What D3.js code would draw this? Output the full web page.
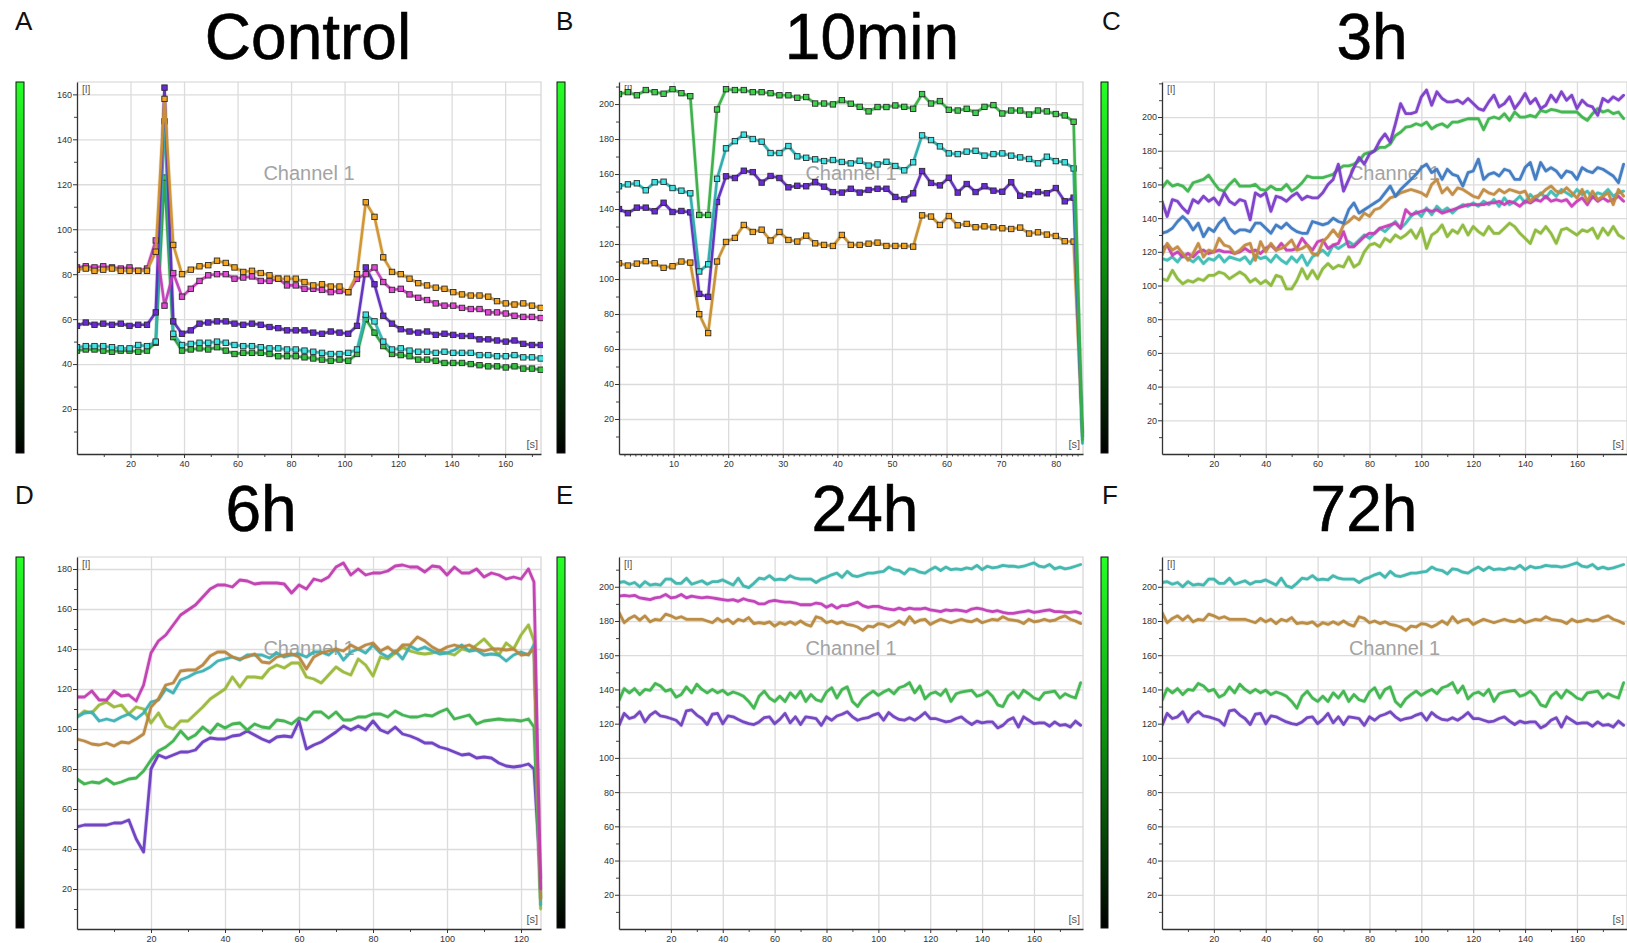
<!DOCTYPE html>
<html>
<head>
<meta charset="utf-8">
<script src="https://cdn.jsdelivr.net/npm/d3@7"></script>
<style>
  html, body { margin: 0; padding: 0; background: #fff; }
  svg { display: block; }
</style>
</head>
<body>
<svg id="chart" width="1627" height="943"></svg>
<script>
// ================= DATA =================
// Tick labels
const xTicks20 = [20, 40, 60, 80, 100, 120, 140, 160];
const xTicksB = [10, 20, 30, 40, 50, 60, 70, 80];
const xTicksD = [20, 40, 60, 80, 100, 120];
const yTicksA = [20, 40, 60, 80, 100, 120, 140, 160];
const yTicks200 = [20, 40, 60, 80, 100, 120, 140, 160, 180, 200];
const yTicksD = [20, 40, 60, 80, 100, 120, 140, 160, 180];

// Panel A: Control (sample times in s)
const ctrlTime = [0,3.27,6.54,9.81,13.08,16.35,19.62,22.89,26.16,29.43,32.7,35.97,39.24,42.51,45.78,49.05,52.32,55.59,58.86,62.13,65.4,68.67,71.94,75.21,78.48,81.75,85.02,88.29,91.56,94.83,98.1,101.37,104.64,107.91,111.18,114.45,117.72,120.99,124.26,127.53,130.8,134.07,137.34,140.61,143.88,147.15,150.42,153.69,156.96,160.23,163.5,166.77,170.04,173.31];
const ctrlOrange = [82,82.5,81.5,82,82.5,81.5,81.5,81.5,81.5,90,158,93,80,82,83.5,84,86,85,83,81,81.5,80.5,79.5,78,78,78,76.5,75,75.5,74.5,74.5,72,80,112,105.5,87.5,81,80,78,76,75,74,73.5,72,71,70.5,70.5,70,68,67,66.5,67,66,65];
const ctrlMagenta = [83,83.5,83,83.5,83,82.5,83,81.5,82.5,95,66,80.5,70,73.5,77,79.5,80,80,78,78.5,79,77,77,78,75,75,73.5,73.5,73,72,72.5,72,78,80,83,76.5,73,73.5,71,69.5,68.5,67,66,66,65,64.5,64.5,63,63,62.5,61.5,61,61,60.5];
const ctrlPurple = [57,58.5,57.5,58,57.5,58,57,57.5,57.5,63,163,59,53.5,55,58,58.5,59,59,58,57.5,58,57.5,56.5,56,55,55,55,54,53.5,54.5,54,53.5,57,83,75.5,61.5,58,55.5,54.5,54,54.5,53,53.5,53,52.5,52.5,51,51,50.5,50,50.5,49,48.5,48.5];
const ctrlCyan = [47.5,48,48,48,47.5,47,47,48.5,48,50,148,53.5,48.5,49,49.5,49.5,50,49.5,48.5,48,48,47.5,47,47,46.5,46.5,46,45.5,45,44.5,44.5,45,46.5,62,59,50,46.5,47,46,45.5,45.5,45,45.5,45,45,45,44,44,43.5,43.5,44,43,43,42.5];
const ctrlGreen = [46,46.5,46.5,46,45.5,46,46,45.5,46,49.5,123,52,46,46.5,47,46.5,47.5,46,44.5,45,45,45,44.5,43.5,43.5,43.5,43,42.5,42,41.5,42,41.5,44.5,60,54,48,44.5,44,43.5,42,42,41.5,40.5,40.5,40.5,40,39.5,39,39,38.5,39,38,38,37.5];

// Panel B: 10min (last point = end-of-recording drop)
const minTime = [0,1.63,3.27,4.9,6.53,8.17,9.8,11.43,13.06,14.7,16.33,17.96,19.6,21.23,22.86,24.5,26.13,27.76,29.39,31.03,32.66,34.29,35.93,37.56,39.19,40.83,42.46,44.09,45.72,47.36,48.99,50.62,52.26,53.89,55.52,57.16,58.79,60.42,62.05,63.69,65.32,66.95,68.59,70.22,71.85,73.49,75.12,76.75,78.38,80.02,81.65,83.28,84.9];
const minGreen = [205.7,206.8,205,208,206.8,205.9,208.5,206.2,204.5,136.6,136.6,196.9,208.5,208,208,206.8,206.8,206.2,205,205,203.6,204,200.3,200.3,199.8,202.2,200.2,198.4,195.8,198.3,198.3,199.2,198.4,197.3,205.7,200.3,201.7,196.7,196.3,197.3,195,198.4,199.4,194.6,196.3,196.3,194,196.3,195.8,194.3,193.5,189.9,8];
const minCyan = [153,154.1,154.7,150.7,155.3,155.6,152,150.5,149,104.3,108.4,157.3,174.7,178.8,182.5,180,178.5,172,172,176,170.1,169.3,168.4,167.4,168,166.9,166.1,167.6,164.8,165.5,167,164.6,162.1,166.7,182.1,179.4,175.8,171.8,171.4,172.8,173.3,170.5,171.4,171.8,170.5,169.5,168.6,166.1,169.9,167.4,166.7,163.2,6];
const minPurple = [140,137.6,140.8,140.8,138.7,143.6,138.3,138.9,138.1,91.5,89.8,144,158.7,157.7,161.9,161.1,155.1,158.9,157.7,152.4,153.3,153,155.3,152.8,149.7,149.4,151.6,149.4,150.9,151.6,151.6,146.9,145.5,149,161.7,154.9,153.5,157.9,149.4,154.3,149.7,153,150.5,149.9,155.3,147.6,148.4,149.7,149,152,144.4,146.5,10];
const minOrange = [109,107.7,108.8,110.2,109,106.4,107.3,110,109.4,79.9,69.1,110,121.2,123.5,130.9,126.9,128.2,122,126.9,122.3,121.4,124.8,120.4,119.5,118.9,125.2,119.5,119.5,120.2,120.8,118.9,118.9,118.9,118.5,136.4,135.7,130.9,136,130.7,131.5,129.6,130.1,129.6,129,128.6,129.4,126,126.7,125.4,124.6,121.6,121.4,12];

// Panel C: 3h (samples every 2 s)
const hTime = d3.range(0, 179, 2);
const hPurple = [150,141,151,150,146,143,151,149,153,150, 152,148,155,150,148,151,150,139,155,153, 155,144,153,152,150,153,155,151,153,152, 152,155,160,163,172,156,163,170,176,172, 178,180,186,190,185,196,208,202,202,203, 212,216,207,215,211,209,209,210,208,211, 208,205,204,209,213,206,208,212,205,209, 214,208,211,205,207,213,209,215,210,213, 205,210,207,206,201,211,209,212,210,213];
const hGreen = [158,162,159,160,159,156,161,162,163,165.5, 161,157,156,160,163,159,159,159,160,157, 156.5,159,157,157,160,156,158,161,165,164, 164,164,165,166,169,171,171,172,174,178, 179,180,182,182,184,189,191,194,194.5,196, 195,197,193,195,196,194,197,197,198,199, 199,199,192.5,199,200,199,202,198,203,200, 200,201,200,204,203,204.5,204,203,203,203, 203,200,198,202,205,203,204,202,203,199];
const hBlue = [131,132,134,138,141,138,133,137,129,134, 132,137,140,134,131,133,133,132,137,137, 134,131,136,134,137,134,132,131,131,138, 137,136,137,140,138,137,145,149,143,145, 147,149,151,155,159,153,157,160,163,166, 170,172,167,169,163,169,166,165,159,167, 168,175,163,166,167,165,169,168,163,163, 170,173,163,173,168,170,168,164,168,167, 163,170,168,167,170,169,167,165,161,172];
const hBrown = [118,125,121,123,119,115,119,125,117,121, 120,128,124,123,119,121,124,125,115,126, 120,125,121,122,124,127,121,122,124,119, 118,126,129,133,129,136,138,141,139,143, 141,145,146,149,152,153,155,156,157,156, 155,153,160,163,155,158,154,158,157,155, 153,152,157,155,154,157,155,157,156,155, 156,150,153,154,157,159,156,155,158,155, 152,157,150,156,151,153,155,148,157,153];
const hMagenta = [122,124,118,120,117,119,117,120,121,119, 120,121,120,120,119,120,122,120,121,119, 122,124,121,125,121,121,122,128,124,121, 126,127,122,124,125,132,123,123,126,129, 131,131,134,135,136,137,134,145,142,143, 144,145,144,145,143,144,145,146,147,148, 148,148,148,149,149,150,148,150,149,147, 150,149,151,150,153,150,151,150,151,147, 150,152,148,153,150,152,150,151,153,150];
const hTeal = [116,115,117,114,118,116,114,117,113,116, 115,118,114,117,116,115,117,113,118,116, 117,114,118,115,113,117,114,118,112,117, 119,121,118,124,122,124,126,124,127,130, 128,131,134,132,135,138,134,137,141,144, 141,146,142,147,144,146,143,146,148,147, 149,147,150,148,151,147,152,148,150,153, 149,154,151,155,152,156,153,157,155,153, 157,154,156,152,155,154,157,153,155,156];
const hYellowGreen = [104,103,109,104,101,103,102,104,103,106, 106,108,107,104,106,108,106,102,104,101, 103,100,106,105,98,98,103,110,104,109, 104,110,113,110,112,111,117,111,113,120, 124,125,123,128,126,130,128,130,133,128, 134,122,130,132,136,129,133,131,136,130, 135,132,130,135,131,131,134,137,135,131, 128,125,133,131,135,131,125,133,134,132, 130,133,132,134,128,134,130,135,130,128];

// Panel D: 6h (samples every 2 s, then end-of-recording drop)
const sixTime = d3.range(0, 123, 2).concat([123.5, 125.3]);
const sixMagenta = [116,116,119,114.5,114.5,119,116.5,117,114,122, 138,144,147,152,157,159.5,162,166,170,172, 172,171,174.5,174,172.5,173,173,173,172.5,168, 172,170,175,174,176,181,183,177,180,177, 178,178,179,181.5,182,181,181,178.5,181.5,181, 177,181,178,178,180,176,178,177,175,176, 175,180, 173.5,20];
const sixBrown = [95,94,92.5,92,93,91.5,93.5,93,95,97.5, 111,115,122,123,129,129.5,129.5,132,136.5,138.5, 138.5,136,135,136,137.5,133.5,133,136,137,137.5, 136,130,136,138,139,140,139,142,140,142, 143,139,141,138,142,142,146,144,141,139, 141,142,141,142,140,139,140,140,139.5,140, 137,137.5, 140,15];
const sixTeal = [106,108,108.5,104,105,104,106,107.5,105,108, 113.5,114.5,120,118,124.5,126,128,129,131,134, 135,136,134.5,137,137,137,135.5,138,136,137, 137.5,136,138.5,138.5,137,140,134.5,138.5,140,138, 142,138,136,139,135,141.5,139.5,141,139,137.5, 138,139.5,142,139,139.5,137,137.5,137,134,137, 138.5,137, 142,12];
const sixYellowGreen = [106,109,108,112,113.5,111,112,107.5,111,110, 103,108,101.5,100,104,104,107.5,111,115,117.5, 120,126,121,126,126,125.5,130,132,130.5,133, 133,126,125,123,127,131,128.5,127,135,132, 126.5,136,135,138,141,139,138,137.5,138,139, 138,137,140,139,142,145,141,137,143,140, 147,152, 144,10];
const sixGreen = [75,72.5,73.5,73,75,72.5,73.5,75,75.5,79, 84.5,89,91,94,99,95,97,101,98,102.5, 100.5,102.5,103,99.5,102.5,101,100.5,104.5,104,102.5, 105.5,104.5,108.5,108.5,105.5,108.5,104.5,104.5,106,106, 107.5,107.5,106,109,107,106,106,107,106.5,108.5, 110,105,106,107,102.5,104,104.5,105,104.5,104.5, 104,105, 101,15];
const sixPurple = [51,52,52,52,52,53,53,54.5,45,38.5, 80,87,85.5,87,88.5,88.5,89.5,93.5,95.5,95, 95,96.5,97,99,97,95,93.5,96,96.5,96, 104,90,92,93.5,96,98.5,101.5,99.5,101.5,99.5, 104,99.5,98,101,97.5,96.5,95,93,93,91, 90,88.5,87,87.5,85.5,86,85.5,83,81.5,81, 81.5,82.5, 80,25];

// Panel E: 24h and Panel F: 72h (samples every 2 s)
const dayTime = d3.range(0, 179, 2);
const dayTeal = [202.5,203,201.5,202.5,200,203,201,201.5,201,204.5, 204.5,202,202,205,201.5,202.5,203.5,201.5,203,203, 204,202.5,201,205,200.5,199.5,202,205,204.5,206.5, 204,204.5,204,206.5,205,204.5,204.5,204.5,202.5,204.5, 205.5,207,208,205.5,209,206.5,206,207,208,208, 208.5,209,211.5,210,209.5,207.5,210.5,210,208.5,208, 210,211.5,209.5,211.5,210,210.5,210,211,210.5,212.5, 210,212,211,211.5,212.5,212,212,211.5,212,213, 214,212,211.5,213,210.5,211.5,210.5,211,212,213];
const dayMagenta = [194.5,195,194.5,195,193.5,193,192.5,193.5,194,195.5, 193.5,194,195.5,193.5,194.5,194,193.5,194,193.5,193, 192.5,192,192.5,191.5,193,192,191.5,190,190,191.5, 192,191.5,191,191,190.5,189.5,189.5,189.5,190.5,190, 188,189.5,187.5,189,189,190,191,189,188,188.5, 188.5,187.5,187,186.5,187.5,186.5,187.5,187,187,187.5, 186.5,186,185.5,186.5,186,186.5,186,185.5,187,187.5, 187,186,185.5,186,185,184.5,184.5,185,185.5,186, 185,185.5,186,186.5,185.5,185.5,185,185,185.5,184.5];
const dayBrown = [185,179,181.5,183,180.5,183,179.5,181,180.5,184, 183,181.5,182.5,181,181,181,181,180,179,181.5, 179.5,181,178.5,181,180,182,178.5,179,178.5,179.5, 177,179,178,179.5,178,180,178,177,182.5,181.5, 179,180,178.5,179.5,178,177.5,176.5,174.5,177,176.5, 178.5,178,176.5,178,180,178,182.5,179,180.5,181, 178,179.5,181,180,179,180,181,180,179.5,181, 179,180,181,180.5,182.5,181,180.5,180,178.5,181, 179.5,180,181,180,180.5,182,183,181,180,178.5];
const dayGreen = [133.5,140.5,138,140.5,137,140,139.5,143.5,142,139, 140,135.5,137,141.5,138,143,140,138,140,138, 139.5,137,138.5,137.5,136,133,129,136,139,135, 133,136,133,138,135,139,133,137,134,133, 138.5,141,135,140,141.5,133,130,134.5,137,139, 136.5,138.5,140,137.5,141,142,144,138,142,134.5, 137.5,138.5,136.5,140,133,137.5,138.5,139,139.5,136, 137,139,136,131,130,136,138.5,135,139.5,137.5, 135,134,138,138.5,139,135,137.5,136,135,144];
const dayPurple = [119,126,123,124,127,121,125,127,124.5,124, 123,122,119,127.5,128,125,123,119.5,125.5,126, 120,124.5,124,122.5,121,120,119.5,121,123.5,124, 120,122.5,126,120.5,124,119.5,124,123.5,123,119, 124,122,124.5,125.5,127,124,122,123,123.5,125, 126,122,126.5,124,122.5,122,123.5,122,124,126.5, 123,123,122,121,121.5,123,124,121.5,119.5,121.5, 120.5,121,121,117.5,119,122,123.5,118,124,122, 120,120.5,120.5,118.5,121,119,119.5,118,121.5,119];

// ================= DRAWING =================
const FONT = '"Liberation Sans", Arial, Helvetica, sans-serif';
const svg = d3.select('#chart');
const defs = svg.append('defs');
const grad = defs.append('linearGradient').attr('id', 'cbar')
  .attr('x1', 0).attr('y1', 0).attr('x2', 0).attr('y2', 1);
grad.append('stop').attr('offset', '0%').attr('stop-color', '#27ff27');
grad.append('stop').attr('offset', '45%').attr('stop-color', '#0f9a12');
grad.append('stop').attr('offset', '100%').attr('stop-color', '#000');

const rows = [
  { top: 82, bottom: 454, titleY: 59, letterY: 30 },
  { top: 557, bottom: 929, titleY: 531, letterY: 504 }
];
const cols = [
  { left: 77, right: 541, cbX: 16, cbW: 8, letterX: 15 },
  { left: 619, right: 1083, cbX: 557, cbW: 8, letterX: 556 },
  { left: 1162, right: 1627, cbX: 1101, cbW: 7, letterX: 1102 }
];

const panels = [
  { letter: 'A', title: 'Control', titleX: 308, row: 0, col: 0, xMax: 173.4, yMax: 165.5,
    xTicks: xTicks20, xMinorStep: 10, yTicks: yTicksA, time: ctrlTime, markers: 54, lw: 2.6,
    series: [
      { v: ctrlGreen, c: '#2f9e3c', f: '#33c23f' },
      { v: ctrlCyan, c: '#2fb3b3', f: '#3fe3e3' },
      { v: ctrlPurple, c: '#5e2dbd', f: '#6a2ad8' },
      { v: ctrlMagenta, c: '#bf3cb6', f: '#e24ad6' },
      { v: ctrlOrange, c: '#cf922c', f: '#f2a41e' }
    ] },
  { letter: 'B', title: '10min', titleX: 872, row: 0, col: 1, xMax: 85.0, yMax: 212.6,
    xTicks: xTicksB, xMinorStep: 1, yTicks: yTicks200, time: minTime, markers: 52, lw: 2.6,
    series: [
      { v: minOrange, c: '#c68e2e', f: '#f2a41e' },
      { v: minPurple, c: '#5e2dbd', f: '#6a2ad8' },
      { v: minCyan, c: '#2aaaaa', f: '#3fe3e3' },
      { v: minGreen, c: '#37ae45', f: '#3fd04e' }
    ] },
  { letter: 'C', title: '3h', titleX: 1372, row: 0, col: 2, xMax: 179.3, yMax: 220.8,
    xTicks: xTicks20, xMinorStep: 10, yTicks: yTicks200, time: hTime, markers: 0, lw: 2.8,
    series: [
      { v: hYellowGreen, c: '#8cb83a' },
      { v: hTeal, c: '#3cbcb4' },
      { v: hMagenta, c: '#c83cb8' },
      { v: hBrown, c: '#c08a40' },
      { v: hBlue, c: '#3c78c0' },
      { v: hGreen, c: '#3cb44b' },
      { v: hPurple, c: '#7a3cc8' }
    ] },
  { letter: 'D', title: '6h', titleX: 261, row: 1, col: 0, xMax: 125.4, yMax: 186,
    xTicks: xTicksD, xMinorStep: 10, yTicks: yTicksD, time: sixTime, markers: 0, lw: 2.8,
    series: [
      { v: sixPurple, c: '#6a3cc0' },
      { v: sixGreen, c: '#3cb04b' },
      { v: sixYellowGreen, c: '#9ab83a' },
      { v: sixTeal, c: '#3cb0b4' },
      { v: sixBrown, c: '#b8863e' },
      { v: sixMagenta, c: '#c03cb0' }
    ] },
  { letter: 'E', title: '24h', titleX: 865, row: 1, col: 1, xMax: 178.9, yMax: 217.4,
    xTicks: xTicks20, xMinorStep: 10, yTicks: yTicks200, time: dayTime, markers: 0, lw: 2.8,
    series: [
      { v: dayPurple, c: '#7040c0' },
      { v: dayGreen, c: '#3cb44b' },
      { v: dayBrown, c: '#b8883c' },
      { v: dayMagenta, c: '#c03cb8' },
      { v: dayTeal, c: '#3cb4ac' }
    ] },
  { letter: 'F', title: '72h', titleX: 1364, row: 1, col: 2, xMax: 179.3, yMax: 217.4,
    xTicks: xTicks20, xMinorStep: 10, yTicks: yTicks200, time: dayTime, markers: 0, lw: 2.8,
    series: [
      { v: dayPurple, c: '#7040c0' },
      { v: dayGreen, c: '#3cb44b' },
      { v: dayBrown, c: '#b8883c' },
      { v: dayTeal, c: '#3cb4ac' }
    ] }
];

function drawPanel(p) {
  const r = rows[p.row], c = cols[p.col];
  const left = c.left, right = c.right, top = r.top, bottom = r.bottom;
  const x = d3.scaleLinear().domain([0, p.xMax]).range([left, right]);
  const y = d3.scaleLinear().domain([0, p.yMax]).range([bottom, top]);
  const g = svg.append('g');

  // letter & title
  g.append('text').attr('x', c.letterX).attr('y', r.letterY)
    .attr('font-family', FONT).attr('font-size', 26).attr('fill', '#111').text(p.letter);
  g.append('text').attr('x', p.titleX).attr('y', r.titleY).attr('text-anchor', 'middle')
    .attr('font-family', FONT).attr('font-size', 64).attr('fill', '#000')
    .attr('stroke', '#000').attr('stroke-width', 0.6).text(p.title);

  // colour bar
  g.append('rect').attr('x', c.cbX).attr('y', top).attr('width', c.cbW).attr('height', bottom - top - 1)
    .attr('fill', 'url(#cbar)').attr('stroke', '#111').attr('stroke-width', 1);

  // clip
  const cid = 'clip' + p.letter;
  defs.append('clipPath').attr('id', cid).append('rect')
    .attr('x', left).attr('y', top - 4).attr('width', right - left + 2).attr('height', bottom - top + 4);

  // grid
  g.append('g').attr('transform', `translate(0,${bottom})`)
    .call(d3.axisBottom(x).tickValues(p.xTicks).tickSize(-(bottom - top)).tickFormat(''))
    .call(s => { s.select('.domain').remove(); s.selectAll('line').attr('stroke', '#dcdcdc').attr('stroke-width', 1.3); });
  g.append('g').attr('transform', `translate(${left},0)`)
    .call(d3.axisLeft(y).tickValues(p.yTicks).tickSize(-(right - left)).tickFormat(''))
    .call(s => { s.select('.domain').remove(); s.selectAll('line').attr('stroke', '#dcdcdc').attr('stroke-width', 1.3); });
  g.append('path').attr('d', `M${left},${top}H${right}V${bottom}`)
    .attr('fill', 'none').attr('stroke', '#d4d4d4').attr('stroke-width', 1.2);

  // watermark text
  g.append('text').attr('x', (left + right) / 2).attr('y', top + 98).attr('text-anchor', 'middle')
    .attr('font-family', FONT).attr('font-size', 20).attr('fill', '#a3a3a3').text('Channel 1');
  g.append('text').attr('x', left + 5).attr('y', top + 11)
    .attr('font-family', FONT).attr('font-size', 10).attr('fill', '#555').text('[I]');
  g.append('text').attr('x', right - 3).attr('y', bottom - 6).attr('text-anchor', 'end')
    .attr('font-family', FONT).attr('font-size', 11).attr('fill', '#555').text('[s]');

  // lines
  const lg = g.append('g').attr('clip-path', `url(#${cid})`);
  const line = d3.line().x((d, i) => x(p.time[i])).y(d => y(d));
  p.series.forEach(s => {
    lg.append('path').datum(s.v).attr('d', line)
      .attr('fill', 'none').attr('stroke', s.c).attr('stroke-width', p.lw + 1.6)
      .attr('stroke-linejoin', 'round').attr('stroke-opacity', 0.18);
    lg.append('path').datum(s.v).attr('d', line)
      .attr('fill', 'none').attr('stroke', s.c).attr('stroke-width', p.lw)
      .attr('stroke-linejoin', 'round').attr('stroke-linecap', 'round').attr('stroke-opacity', 0.95);
    if (p.markers > 0) {
      lg.selectAll(null).data(s.v.slice(0, p.markers)).join('rect')
        .attr('x', (d, i) => x(p.time[i]) - 2.7).attr('y', d => y(d) - 2.7)
        .attr('width', 5.4).attr('height', 5.4)
        .attr('fill', s.f).attr('stroke', '#2a2a2a').attr('stroke-width', 0.9);
    }
  });

  // axes: minor ticks
  const yMinor = d3.range(10, p.yMax, 10).filter(v => !p.yTicks.includes(v));
  const xMinor = d3.range(p.xMinorStep, p.xMax, p.xMinorStep).filter(v => !p.xTicks.includes(v));
  g.append('g').attr('transform', `translate(${left},0)`)
    .call(d3.axisLeft(y).tickValues(yMinor).tickSize(3).tickSizeOuter(0).tickFormat(''))
    .call(s => { s.select('.domain').remove(); s.selectAll('line').attr('stroke', '#444'); });
  g.append('g').attr('transform', `translate(0,${bottom})`)
    .call(d3.axisBottom(x).tickValues(xMinor).tickSize(p.xMinorStep === 1 ? 2.5 : 3).tickSizeOuter(0).tickFormat(''))
    .call(s => { s.select('.domain').remove(); s.selectAll('line').attr('stroke', '#444'); });

  // axes: major ticks + labels
  g.append('g').attr('transform', `translate(${left},0)`)
    .call(d3.axisLeft(y).tickValues(p.yTicks).tickSize(4).tickPadding(1).tickSizeOuter(0).tickFormat(d3.format('d')))
    .call(s => {
      s.select('.domain').attr('stroke', '#333').attr('stroke-width', 1.3);
      s.selectAll('line').attr('stroke', '#333');
      s.selectAll('text').attr('font-family', FONT).attr('font-size', 9).attr('fill', '#333');
    });
  g.append('g').attr('transform', `translate(0,${bottom})`)
    .call(d3.axisBottom(x).tickValues(p.xTicks).tickSize(4).tickPadding(3).tickSizeOuter(0).tickFormat(d3.format('d')))
    .call(s => {
      s.select('.domain').attr('stroke', '#333').attr('stroke-width', 1.3);
      s.selectAll('line').attr('stroke', '#333');
      s.selectAll('text').attr('font-family', FONT).attr('font-size', 9).attr('fill', '#333');
    });
}

panels.forEach(drawPanel);
</script>
</body>
</html>
